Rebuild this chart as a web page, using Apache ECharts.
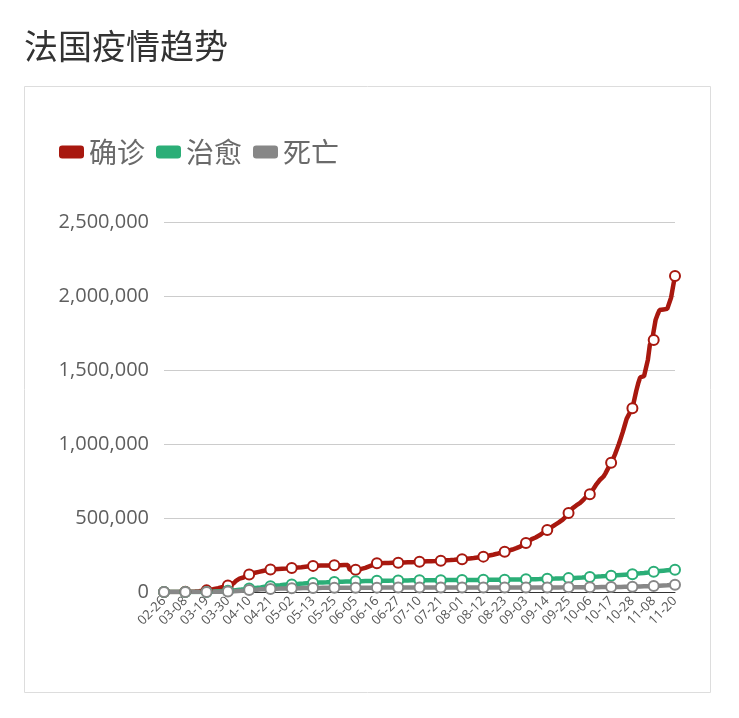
<!DOCTYPE html>
<html>
<head>
<meta charset="utf-8">
<script src="https://cdn.jsdelivr.net/npm/echarts@6/dist/echarts.min.js"></script>
<style>
html,body{margin:0;padding:0;background:#fff;}
#chart{width:739px;height:718px;}
</style>
</head>
<body>
<div id="chart"></div>
<script>
const titleText = '法国疫情趋势';
const seriesNames = ['确诊', '治愈', '死亡'];
const yTicks = [0, 500000, 1000000, 1500000, 2000000, 2500000];

const dates = [
'02-26','02-27','02-28','02-29',
'03-01','03-02','03-03','03-04','03-05','03-06','03-07','03-08','03-09','03-10','03-11','03-12','03-13','03-14','03-15','03-16','03-17','03-18','03-19','03-20','03-21','03-22','03-23','03-24','03-25','03-26','03-27','03-28','03-29','03-30','03-31',
'04-01','04-02','04-03','04-04','04-05','04-06','04-07','04-08','04-09','04-10','04-11','04-12','04-13','04-14','04-15','04-16','04-17','04-18','04-19','04-20','04-21','04-22','04-23','04-24','04-25','04-26','04-27','04-28','04-29','04-30',
'05-01','05-02','05-03','05-04','05-05','05-06','05-07','05-08','05-09','05-10','05-11','05-12','05-13','05-14','05-15','05-16','05-17','05-18','05-19','05-20','05-22','05-23','05-24','05-25','05-26','05-27','05-28','05-29','05-30','05-31',
'06-01','06-02','06-03','06-04','06-05','06-06','06-07','06-08','06-09','06-10','06-11','06-12','06-13','06-14','06-15','06-16','06-17','06-18','06-19','06-20','06-21','06-22','06-23','06-24','06-25','06-26','06-27','06-28','06-29','06-30',
'07-01','07-02','07-03','07-06','07-07','07-08','07-09','07-10','07-11','07-12','07-13','07-14','07-15','07-16','07-17','07-18','07-19','07-20','07-21','07-22','07-23','07-24','07-25','07-26','07-27','07-28','07-29','07-30','07-31',
'08-01','08-02','08-03','08-04','08-05','08-06','08-07','08-08','08-09','08-10','08-11','08-12','08-13','08-14','08-15','08-16','08-17','08-18','08-19','08-20','08-21','08-22','08-23','08-24','08-25','08-26','08-27','08-28','08-29','08-30','08-31',
'09-01','09-02','09-03','09-04','09-05','09-06','09-07','09-08','09-09','09-10','09-11','09-12','09-13','09-14','09-15','09-16','09-17','09-18','09-19','09-20','09-21','09-22','09-23','09-24','09-25','09-26','09-27','09-28','09-29','09-30',
'10-01','10-02','10-03','10-04','10-05','10-06','10-07','10-08','10-09','10-10','10-11','10-12','10-13','10-14','10-15','10-16','10-17','10-18','10-19','10-20','10-21','10-22','10-23','10-24','10-25','10-26','10-27','10-28','10-29','10-30','10-31',
'11-01','11-02','11-03','11-04','11-05','11-06','11-07','11-08','11-09','11-10','11-11','11-12','11-13','11-14','11-16','11-17','11-18','11-19','11-20'
];

const confirmed = [
18,38,57,100,130,191,212,285,423,653,949,1126,
1412,1784,2281,2876,3661,4499,5423,6633,7730,9134,10995,
12612,14459,16018,19856,22302,25233,29155,32964,37575,40174,44550,
52128,56989,59105,73000,82165,89953,93780,98010,109069,112950,119000,
123000,127000,130000,133500,136000,139000,142000,145000,147500,150000,152000,
153000,154000,155000,156000,157000,157800,158500,159300,160200,161100,162000,
163000,164000,165000,166000,167500,169000,170500,172000,173500,175000,176500,
177000,177500,178000,178300,178600,178900,179200,179500,179700,179900,180100,
180400,180700,181000,181300,181600,181900,182200,150000,150000,150200,150500,
152000,154000,156000,158000,163000,168000,173000,178000,183000,188000,193500,
194000,194500,195000,195500,196000,196300,196600,197000,197300,197600,198000,
198500,199000,199500,200000,200500,201000,201500,202200,203000,204000,205000,
205500,206000,206500,207000,207500,208000,208500,209000,209500,210200,211000,
212000,213000,214000,214800,215600,216500,217500,218500,219500,220300,221000,
222500,224000,225500,227000,228500,230000,231800,233500,235200,237000,239000,
241500,244000,246500,249000,252000,255000,258000,261500,265000,268500,272000,
275500,279000,283000,287000,291500,296000,301000,307000,314000,322000,331000,
339000,348000,357000,363000,368000,375000,383000,393000,402000,410000,419000,
427000,436000,445000,454000,462000,470000,478000,489000,499000,514000,533000,
545000,565000,577000,585000,592000,602000,614000,628000,642000,652000,661000,
680000,700000,720000,738000,755000,767000,779000,800000,825000,850000,874000,
900000,930000,965000,1000000,1040000,1080000,1125000,1170000,1195000,1220000,1241000,
1300000,1360000,1410000,1450000,1455000,1458000,1462000,1570000,1670000,1690000,1703000,
1840000,1875000,1905000,1907000,1909000,1911000,1913000,1915000,1990000,2065000,2135000
];

const recovered = [
11,11,11,12,12,12,12,12,12,12,12,12,
12,12,12,12,12,12,12,12,12,602,602,
1587,1587,2200,3281,3900,4948,5700,5700,5724,7226,7964,
9444,10935,11053,12428,14008,15572,16183,17250,19337,21254,23413,
24932,26391,27186,28001,28805,30955,33327,35983,36578,37409,39181,
40657,42088,43493,44594,45513,46886,48228,49476,50212,50784,51371,
51725,52736,53972,55027,56038,56724,57785,58673,59605,60448,61213,
61728,62563,63354,63858,64209,64547,65199,65975,66584,67309,67921,
68355,68812,69257,69550,69990,70504,70870,71347,71772,72214,72659,
72915,73112,73365,73726,74042,74278,74556,74826,75120,75363,75610,
75822,76012,76198,76398,76560,76698,76812,76986,77184,77374,77545,
77628,77778,77945,78100,78266,78410,78566,78712,78852,78970,79096,
79152,79210,79309,79441,79567,79684,79794,79905,79988,80068,80168,
80260,80366,80455,80518,80600,80662,80740,80814,80905,80986,81062,
81121,81188,81275,81361,81441,81541,81619,81710,81823,81934,82021,
82120,82243,82376,82477,82571,82698,82815,82950,83103,83233,83385,
83516,83685,83847,84022,84210,84388,84583,84785,85015,85238,85487,
85735,85972,86171,86446,86731,87043,87399,87767,88122,88500,88915,
89270,89651,90016,90433,90860,91288,91705,92181,92693,93209,93766,
94298,94810,95302,95925,96573,97189,97846,98551,99322,100048,100817,
101602,102392,103219,104104,104985,105869,106811,107726,108670,109641,110557,
111400,112300,113200,114100,115000,115900,116800,117700,118600,119500,120400,
121800,123200,124600,126100,127600,129100,130600,132200,133800,135400,137000,
138400,139800,141200,142600,144000,145300,146500,147700,148900,150000,151100
];

const deaths = [
2,2,2,2,2,3,4,4,7,9,11,19,
25,33,48,61,79,91,127,148,175,264,372,
450,562,674,860,1100,1331,1696,1995,2314,2606,3024,
3523,4032,4503,5387,6507,7560,8078,8911,10328,10869,13197,
13832,14393,14967,15729,17167,17920,18681,19323,19718,20265,20796,
21340,21856,22245,22614,22856,23293,23660,24087,24376,24594,24760,
24895,25201,25531,25809,25987,26230,26310,26380,26643,26991,27074,
27425,27529,27625,28022,28108,28132,28215,28289,28332,28370,28432,
28530,28596,28662,28714,28771,28802,28833,28940,29021,29065,29111,
29145,29155,29209,29296,29319,29346,29374,29398,29436,29439,29547,
29575,29603,29617,29633,29640,29666,29720,29731,29752,29778,29781,
29813,29843,29861,29875,29893,29920,29933,29965,29979,29990,30004,
30007,30029,30046,30066,30088,30102,30120,30138,30152,30165,30172,
30182,30192,30200,30209,30223,30231,30238,30245,30254,30260,30265,
30268,30294,30297,30305,30312,30324,30340,30354,30371,30379,30388,
30400,30410,30429,30434,30451,30468,30480,30492,30500,30506,30512,
30528,30544,30576,30602,30606,30635,30661,30686,30698,30706,30724,
30730,30740,30764,30794,30813,30832,30878,30893,30910,30916,30950,
31045,31077,31103,31154,31213,31249,31274,31327,31416,31459,31511,
31633,31661,31700,31808,31893,31956,32019,32198,32230,32365,32521,
32600,32684,32730,32779,32825,32942,33037,33125,33303,33325,33392,
33477,33623,33885,34048,34210,34508,34761,35018,35248,35400,35541,
36020,36565,37019,37435,38289,38674,38716,39037,39865,40439,40987,
41491,42535,42960,43892,44246,44548,45054,46273,46698,47127,48265
];

const colors = ['#a8180f', '#2bae77', '#878787'];
const seriesData = [confirmed, recovered, deaths];

const chart = echarts.init(document.getElementById('chart'), null, {renderer: 'canvas'});
chart.setOption({
  animation: false,
  color: colors,
  title: {
    text: titleText,
    left: 24,
    top: 29,
    padding: 0,
    textStyle: {fontSize: 34, fontWeight: 'normal', color: '#333', fontFamily: 'Noto Sans CJK SC'}
  },
  legend: {
    data: seriesNames,
    left: 59,
    top: 138,
    padding: 0,
    icon: 'roundRect',
    itemWidth: 25,
    itemHeight: 13,
    itemGap: 11,
    textStyle: {fontSize: 28, color: '#6a6a6a', fontFamily: 'Noto Sans CJK SC'}
  },
  graphic: [{
    type: 'rect',
    shape: {x: 24.5, y: 86.5, width: 686, height: 606},
    style: {fill: 'none', stroke: '#dddddd', lineWidth: 1},
    silent: true
  }],
  grid: {left: 164, right: 64, top: 222, bottom: 126, containLabel: false},
  xAxis: {
    type: 'category',
    data: dates,
    boundaryGap: false,
    axisLine: {lineStyle: {color: '#333', width: 1}},
    axisTick: {show: false},
    axisLabel: {interval: 10, rotate: 45, fontSize: 13, color: '#555', margin: 7, fontFamily: 'Open Sans'}
  },
  yAxis: {
    type: 'value',
    min: yTicks[0],
    max: yTicks[yTicks.length - 1],
    interval: yTicks[1] - yTicks[0],
    axisLine: {show: false},
    axisTick: {show: false},
    axisLabel: {fontSize: 20, color: '#5e5e5e', margin: 15, fontFamily: 'Open Sans'},
    splitLine: {lineStyle: {color: '#cccccc', width: 1}}
  },
  series: seriesNames.map((name, i) => ({
    name: name,
    type: 'line',
    data: seriesData[i],
    symbol: 'emptyCircle',
    symbolSize: 10,
    showAllSymbol: 'auto',
    lineStyle: {width: 4.5, color: colors[i]},
    itemStyle: {color: colors[i], borderWidth: 1}
  }))
});
</script>
</body>
</html>
